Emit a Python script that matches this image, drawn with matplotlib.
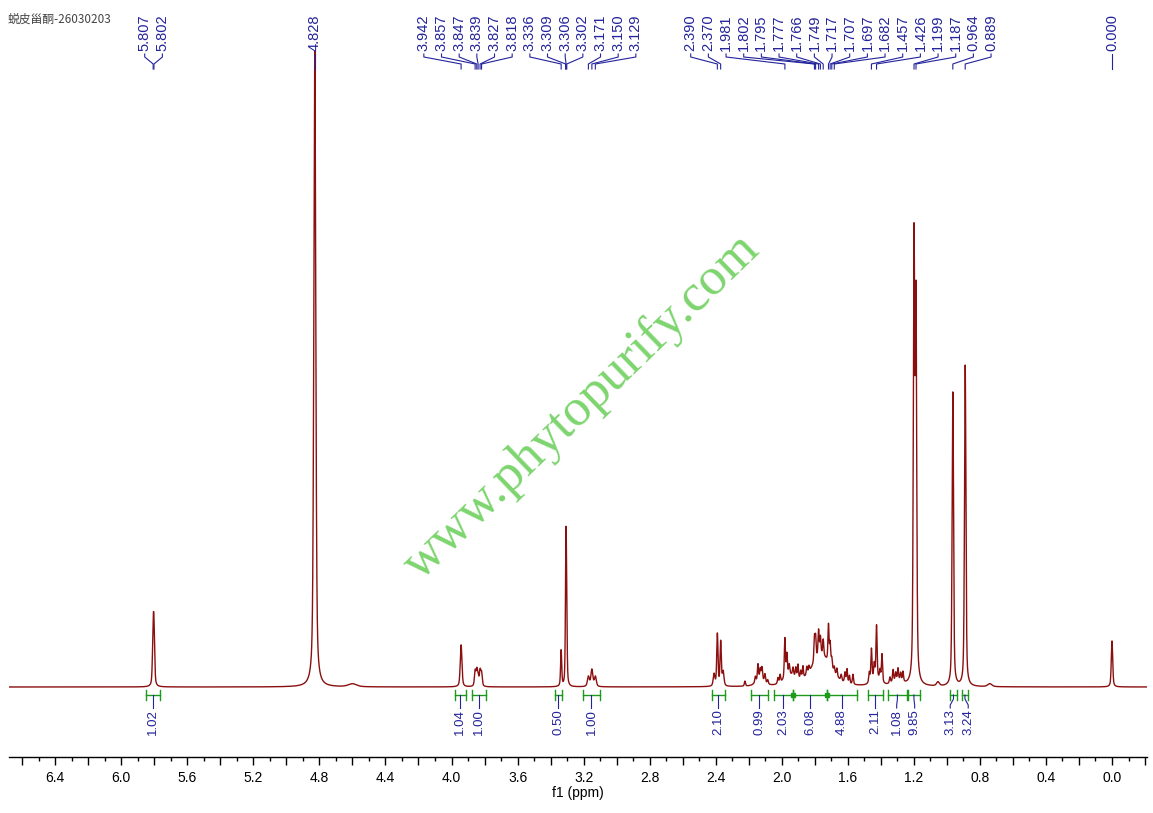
import numpy as np
import matplotlib.pyplot as plt
from matplotlib.ticker import MultipleLocator, FuncFormatter

# peak list: position (ppm), height above baseline, half width (ppm)
peak_ppm = [5.807, 5.802, 4.828, 4.600, 3.942,
            3.857, 3.847, 3.839, 3.827, 3.818,
            3.336, 3.309, 3.306, 3.302, 3.171, 3.150, 3.129,
            2.410, 2.390, 2.370, 2.355,
            2.223, 2.160, 2.144, 2.130, 2.120, 2.102, 2.085,
            2.023, 2.010, 1.981, 1.969, 1.955, 1.932, 1.915, 1.902, 1.885, 1.872,
            1.848, 1.835, 1.802, 1.795, 1.777, 1.766, 1.749, 1.717, 1.707, 1.697,
            1.682, 1.666, 1.640, 1.617, 1.605, 1.590, 1.569,
            1.760, 1.950, 2.130,
            1.470, 1.457, 1.440, 1.426, 1.405, 1.393, 1.430,
            1.345, 1.326, 1.310, 1.296, 1.280, 1.266, 1.300,
            1.199, 1.187, 1.054, 0.964, 0.889, 0.740, 0.000]
peak_height = [46, 46, 636, 3, 42,
               15, 15, 9, 15, 13,
               36, 35, 125, 35, 10, 17, 10,
               12, 52, 44, 14,
               5, 6, 16, 10, 12, 8, 4,
               6, 8, 40, 22, 10, 8, 10, 14, 8, 12,
               8, 6, 24, 22, 26, 18, 16, 38, 22, 10,
               6, 8, 6, 10, 14, 8, 10,
               31, 10, 7,
               10, 32, 14, 52, 10, 28, 8,
               6, 12, 8, 12, 8, 10, 5,
               432, 369, 4, 294, 321, 3, 46]
peak_hwhm = [0.005, 0.005, 0.007, 0.03, 0.006,
             0.005, 0.005, 0.005, 0.005, 0.005,
             0.004, 0.0035, 0.0035, 0.0035, 0.007, 0.007, 0.007,
             0.006, 0.0045, 0.0045, 0.006,
             0.004, 0.004, 0.004, 0.004, 0.004, 0.004, 0.004,
             0.004, 0.004, 0.004, 0.004, 0.004, 0.004, 0.004, 0.004, 0.004, 0.004,
             0.004, 0.004, 0.004, 0.004, 0.004, 0.004, 0.004, 0.004, 0.004, 0.004,
             0.004, 0.004, 0.004, 0.004, 0.004, 0.004, 0.004,
             0.07, 0.04, 0.03,
             0.004, 0.004, 0.004, 0.004, 0.004, 0.004, 0.03,
             0.004, 0.004, 0.004, 0.004, 0.004, 0.004, 0.04,
             0.005, 0.005, 0.01, 0.005, 0.005, 0.015, 0.005]

# picked peak labels
label_ppm = [5.807, 5.802, 4.828, 3.942, 3.857, 3.847, 3.839, 3.827, 3.818,
             3.336, 3.309, 3.306, 3.302, 3.171, 3.150, 3.129,
             2.390, 2.370, 1.981, 1.802, 1.795, 1.777, 1.766, 1.749, 1.717,
             1.707, 1.697, 1.682, 1.457, 1.426, 1.199, 1.187, 0.964, 0.889, 0.000]

# integral regions
int_from = [5.851, 3.979, 3.876, 3.374, 3.204, 2.423, 2.187, 2.047, 1.932,
            1.726, 1.478, 1.357, 1.236, 0.981, 0.909]
int_to = [5.766, 3.913, 3.791, 3.331, 3.101, 2.344, 2.084, 1.932, 1.726,
          1.545, 1.387, 1.242, 1.163, 0.939, 0.872]
int_value = [1.02, 1.04, 1.00, 0.50, 1.00, 2.10, 0.99, 2.03, 6.08,
             4.88, 2.11, 1.08, 9.85, 3.13, 3.24]

title = "蜕皮甾酮-26030203"

BLUE = "#23239b"
GREEN = "#1b9a1b"
RED = "#8b0f0f"
ETA = 0.5  # lorentzian share of the line shape


def spread(centers, gap):
    # labels sorted from high to low ppm, grouped and centred so they don't overlap
    groups = [[i] for i in range(len(centers))]

    def place(g):
        c = np.mean([centers[i] for i in g])
        n = len(g)
        return [c + gap * ((n - 1) / 2 - k) for k in range(n)]

    changed = True
    while changed:
        changed = False
        pos = [place(g) for g in groups]
        for j in range(len(groups) - 1):
            if pos[j][-1] - pos[j + 1][0] < gap:
                groups[j] = groups[j] + groups[j + 1]
                del groups[j + 1]
                changed = True
                break
    out = []
    for g in groups:
        out += place(g)
    return out


fig = plt.figure(figsize=(11.53, 8.13), dpi=100)
ax = fig.add_axes([9 / 1153, 1 - 757 / 813, 1138 / 1153, 757 / 813])

x = np.linspace(6.68, -0.212, 36000)
y = np.zeros_like(x)
for p, h, w in zip(peak_ppm, peak_height, peak_hwhm):
    u = (x - p) / w
    y += h * (ETA / (1 + u ** 2) + (1 - ETA) * np.exp(-np.log(2) * u ** 2))
ax.plot(x, y, color=RED, lw=1.0)

ax.set_xlim(6.68, -0.212)
ax.set_ylim(-70, 687)

# peak labels at the top
lab_x = spread(label_ppm, 0.107)
for p, lx in zip(label_ppm, lab_x):
    ax.text(lx, 636, "%.3f" % p, rotation=90, ha="center", va="bottom",
            fontsize=10.5, color=BLUE, family="Liberation Sans")
    ax.plot([lx, lx, p, p], [633, 630, 623, 618], color=BLUE, lw=0.8,
            clip_on=False)

# integrals under the baseline
centers = [(a + b) / 2 for a, b in zip(int_from, int_to)]
int_x = spread(centers, 0.109)
for i, (a, b, v) in enumerate(zip(int_from, int_to, int_value)):
    ax.plot([a, b], [-8, -8], color=GREEN, lw=1.0)
    ax.plot([a, a], [-3, -13], color=GREEN, lw=1.0)
    ax.plot([b, b], [-3, -13], color=GREEN, lw=1.0)
    if i + 1 < len(int_from) and abs(b - int_from[i + 1]) < 0.005:
        ax.plot([b], [-8], marker="s", ms=3, color=GREEN)
    c, lx = centers[i], int_x[i]
    ax.plot([c, c, lx, lx], [-8, -12, -18, -21], color=BLUE, lw=0.8)
    ax.text(lx, -22, "%.2f" % v, rotation=90, ha="center", va="top",
            fontsize=9.5, color=BLUE, family="Liberation Sans")

for s in ["top", "left", "right"]:
    ax.spines[s].set_visible(False)
ax.spines["bottom"].set_linewidth(1.0)
ax.set_yticks([])
ax.xaxis.set_major_locator(MultipleLocator(0.2))
ax.xaxis.set_minor_locator(MultipleLocator(0.1))
ax.xaxis.set_major_formatter(FuncFormatter(
    lambda v, pos: "%.1f" % abs(v) if abs(v / 0.4 - round(v / 0.4)) < 1e-6 else ""))
ax.tick_params(axis="x", which="major", length=6, width=1, pad=4, labelsize=10)
ax.tick_params(axis="x", which="minor", length=3, width=1)
for t in ax.get_xticklabels():
    t.set_family("Liberation Sans")
ax.set_xlabel("f1 (ppm)", fontsize=10, family="Liberation Sans", labelpad=1)

fig.text(8 / 1153, 1 - 19 / 813, title, fontsize=8.5, color="#444444",
         va="center", family=["Noto Sans CJK SC", "DejaVu Sans"])
fig.text(582 / 1153, 1 - 407 / 813, "www.phytopurify.com", rotation=44,
         rotation_mode="anchor", ha="center", va="center", fontsize=38,
         family="Liberation Serif", color="#6fd05f", alpha=0.9)

fig.savefig("out.png", dpi=100)
